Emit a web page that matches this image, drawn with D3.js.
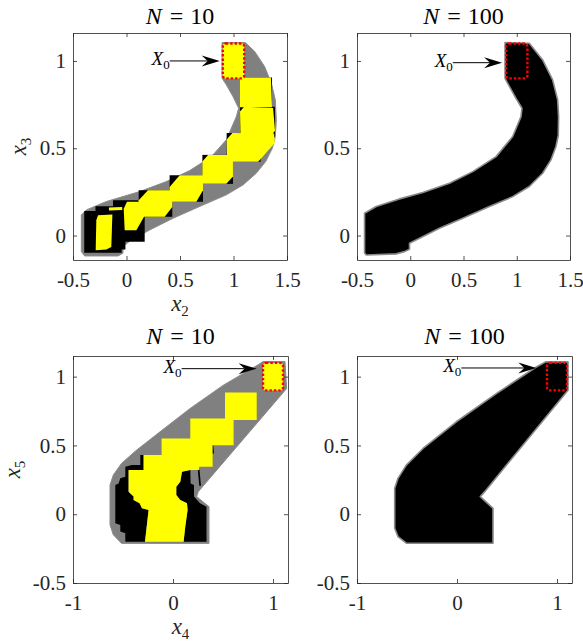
<!DOCTYPE html>
<html>
<head>
<meta charset="utf-8">
<script src="https://cdn.jsdelivr.net/npm/d3@7"></script>
<style>
  body { margin: 0; background: #fff; }
  svg text { font-family: "Liberation Serif", "Times New Roman", "DejaVu Serif", serif; }
</style>
</head>
<body>
<div id="chart"></div>
<script>
// ---------- data (data units) ----------
var titleN = [10, 100, 10, 100];
var xTicksTop = [-0.5, 0, 0.5, 1, 1.5], yTicksTop = [0, 0.5, 1];
var xTicksBot = [-1, 0, 1], yTicksBot = [-0.5, 0, 0.5, 1];

// initial set X0 : [xmin, xmax, ymin, ymax]
var initialSet = [0.9, 1.1, 0.9, 1.1];

// (x2, x3) plane
var hull23N10 = [[0.893,1.105],[1.111,1.105],[1.198,1.054],[1.291,0.968],[1.354,0.872],[1.391,0.777],
  [1.400,0.662],[1.391,0.567],[1.363,0.500],[1.301,0.424],[1.213,0.357],[1.089,0.290],[0.933,0.233],
  [0.715,0.175],[0.435,0.099],[0.217,0.032],[0.045,-0.025],[-0.033,-0.063],[-0.033,-0.101],
  [-0.079,-0.117],[-0.391,-0.117],[-0.422,-0.092],[-0.422,0.118],[-0.375,0.147],[-0.188,0.195],
  [0.123,0.252],[0.372,0.309],[0.590,0.372],[0.793,0.452],[0.933,0.548],[1.026,0.681],[1.048,0.729],
  [0.995,0.796],[0.933,0.863],[0.893,0.901]];
var hull23N100 = [[0.890,1.105],[1.118,1.101],[1.243,1.006],[1.337,0.891],[1.384,0.777],[1.393,0.681],
  [1.390,0.573],[1.368,0.510],[1.321,0.433],[1.243,0.357],[1.118,0.281],[0.962,0.223],[0.743,0.166],
  [0.493,0.099],[0.274,0.042],[0.087,-0.015],[-0.007,-0.044],[-0.007,-0.078],[-0.054,-0.092],
  [-0.132,-0.105],[-0.413,-0.111],[-0.429,-0.100],[-0.429,0.128],[-0.320,0.166],[-0.101,0.210],
  [0.118,0.246],[0.368,0.300],[0.587,0.366],[0.806,0.452],[0.962,0.567],[1.040,0.681],[1.049,0.729],
  [0.993,0.786],[0.915,0.872],[0.890,0.900]];
// outer boxes of the N = 10 steps : [xmin, xmax, ymin, ymax]
var boxes23 = [[1.058,1.360,0.735,0.905],[1.061,1.388,0.565,0.737],[0.936,1.254,0.422,0.588],
  [0.709,0.995,0.296,0.462],[0.403,0.715,0.193,0.345],[0.114,0.428,0.107,0.259],
  [-0.126,0.170,-0.036,0.202],[-0.290,-0.010,-0.080,0.168],[-0.395,-0.045,-0.098,0.140]];
// inner sets of the N = 10 steps
var inner23 = [
  [[1.058,0.905],[1.350,0.905],[1.360,0.735],[1.058,0.735]],
  [[1.100,0.737],[1.370,0.731],[1.388,0.600],[1.344,0.565],[1.065,0.578],[1.061,0.710]],
  [[0.990,0.588],[1.380,0.585],[1.385,0.530],[1.270,0.450],[1.230,0.422],[0.940,0.422],[0.936,0.550]],
  [[0.762,0.462],[0.995,0.462],[0.995,0.338],[0.933,0.296],[0.709,0.296],[0.709,0.424]],
  [[0.497,0.345],[0.715,0.345],[0.715,0.259],[0.653,0.193],[0.403,0.193],[0.403,0.278]],
  [[0.201,0.259],[0.428,0.259],[0.428,0.164],[0.357,0.107],[0.114,0.107],[0.114,0.202]],
  [[0.005,0.193],[0.154,0.193],[0.164,0.107],[0.092,0.030],[-0.017,0.030],[-0.026,0.154]],
  [[-0.164,0.160],[-0.040,0.163],[-0.040,0.146],[-0.164,0.143]],
  [[-0.266,0.116],[-0.132,0.120],[-0.142,-0.065],[-0.188,-0.080],[-0.288,-0.084],[-0.282,0.088]]];

// (x4, x5) plane
var hull45N10 = [[0.900,1.110],[1.120,1.110],[1.136,0.913],[0.253,0.164],[0.236,0.128],[0.360,0.055],
  [0.360,-0.212],[-0.514,-0.212],[-0.597,-0.150],[-0.630,-0.078],[-0.630,0.212],[-0.597,0.285],
  [-0.514,0.370],[-0.364,0.466],[-0.130,0.599],[0.170,0.768],[0.503,0.938],[0.853,1.087]];
var hull45N100 = [[0.886,1.107],[1.110,1.107],[1.110,0.901],[0.277,0.164],[0.233,0.128],[0.360,0.043],
  [0.360,-0.211],[-0.507,-0.211],[-0.590,-0.163],[-0.623,-0.102],[-0.623,0.188],[-0.590,0.261],
  [-0.507,0.357],[-0.340,0.478],[-0.007,0.672],[0.393,0.877],[0.793,1.070]];
var outer45 = [
  [[-0.327,0.430],[-0.294,0.430],[-0.294,0.321],[-0.444,0.321],[-0.444,0.164],[-0.394,0.128],
   [-0.394,0.104],[-0.334,0.079],[-0.310,0.043],[-0.244,0.031],[-0.280,-0.200],[-0.477,-0.200],
   [-0.477,-0.138],[-0.527,-0.126],[-0.527,-0.078],[-0.577,-0.066],[-0.577,0.212],[-0.544,0.224],
   [-0.527,0.261],[-0.477,0.273],[-0.477,0.345],[-0.410,0.357],[-0.327,0.357]],
  [[0.090,0.309],[0.173,0.321],[0.176,0.224],[0.210,0.212],[0.210,0.128],[0.270,0.079],
   [0.335,0.055],[0.335,-0.200],[0.106,-0.200],[0.123,-0.090],[0.146,0.031],[0.140,0.079],
   [0.073,0.104],[0.033,0.140],[0.033,0.200],[0.073,0.236]],
  [[0.246,0.338],[0.263,0.338],[0.280,0.207],[0.263,0.207]],
  [[0.376,0.551],[0.396,0.551],[0.410,0.442],[0.390,0.442]]];
var inner45 = [
  [[0.520,0.884],[0.837,0.884],[0.837,0.684],[0.606,0.684],[0.606,0.502],[0.396,0.502],[0.396,0.345],
   [0.263,0.345],[0.263,0.321],[0.173,0.321],[0.090,0.309],[0.073,0.236],[0.033,0.200],[0.033,0.140],
   [0.073,0.104],[0.140,0.079],[0.146,0.031],[0.123,-0.090],[0.106,-0.200],[-0.280,-0.200],
   [-0.244,0.031],[-0.310,0.043],[-0.334,0.079],[-0.394,0.104],[-0.394,0.128],[-0.444,0.164],
   [-0.444,0.321],[-0.294,0.321],[-0.294,0.430],[-0.114,0.430],[-0.114,0.551],[0.173,0.551],
   [0.173,0.696],[0.520,0.696]]];

// X0 annotation arrows : [tail x, tail y, head x, head y]
var arrowsX0 = [[0.404,1.0,0.871,1.0],[0.400,0.99,0.862,0.99],[0.086,1.058,0.836,1.058],[0.043,1.063,0.793,1.063]];

// ---------- layout ----------
var W = 583, H = 643;
var svg = d3.select("#chart").append("svg").attr("width", W).attr("height", H);

var panels = [
  { box: [73, 287, 33, 260], xd: [-0.5, 1.5], yd: [-0.14, 1.16], xt: xTicksTop, yt: yTicksTop,
    n: titleN[0], xl: "2", yl: "3", ylx: 26, xly: 311, titleY: 24,
    hull: hull23N10, mode: "n10", outer: boxes23.map(function (b) { return [[b[0],b[2]],[b[1],b[2]],[b[1],b[3]],[b[0],b[3]]]; }),
    inner: inner23, arrow: arrowsX0[0] },
  { box: [357, 570, 33, 260], xd: [-0.5, 1.5], yd: [-0.14, 1.16], xt: xTicksTop, yt: yTicksTop,
    n: titleN[1], titleY: 24, hull: hull23N100, mode: "n100", arrow: arrowsX0[1] },
  { box: [73, 288, 356, 583], xd: [-1, 1.15], yd: [-0.5, 1.15], xt: xTicksBot, yt: yTicksBot,
    n: titleN[2], xl: "4", yl: "5", ylx: 20, xly: 634, titleY: 344,
    hull: hull45N10, mode: "n10", outer: outer45, inner: inner45, arrow: arrowsX0[2] },
  { box: [357, 572, 356, 583], xd: [-1, 1.15], yd: [-0.5, 1.15], xt: xTicksBot, yt: yTicksBot,
    n: titleN[3], titleY: 344, hull: hull45N100, mode: "n100", arrow: arrowsX0[3] }
];

var axisColor = "#262626";

function styleAxis(g) {
  g.attr("font-size", 21).attr("font-family", null);
  g.select(".domain").attr("stroke", axisColor).attr("stroke-width", 0.8);
  g.selectAll(".tick line").attr("stroke", axisColor).attr("stroke-width", 0.8);
  g.selectAll(".tick text").attr("fill", axisColor);
}

panels.forEach(function (p, i) {
  var x = d3.scaleLinear().domain(p.xd).range([p.box[0], p.box[1]]);
  var y = d3.scaleLinear().domain(p.yd).range([p.box[3], p.box[2]]);
  var line = d3.line().x(function (d) { return x(d[0]); }).y(function (d) { return y(d[1]); });
  var poly = function (pts) { return line(pts) + "Z"; };

  svg.append("clipPath").attr("id", "clip" + i)
    .append("rect")
    .attr("x", p.box[0]).attr("y", p.box[2])
    .attr("width", p.box[1] - p.box[0]).attr("height", p.box[3] - p.box[2]);

  var plot = svg.append("g").attr("clip-path", "url(#clip" + i + ")");

  if (p.mode === "n10") {
    plot.append("path").attr("d", poly(p.hull))
      .attr("fill", "#808080").attr("stroke", "#8c8c8c").attr("stroke-width", 1);
    plot.selectAll("path.outer").data(p.outer).join("path").attr("class", "outer")
      .attr("d", poly).attr("fill", "#000");
    plot.selectAll("path.inner").data(p.inner).join("path").attr("class", "inner")
      .attr("d", poly).attr("fill", "#ffff00");
  } else {
    plot.append("path").attr("d", poly(p.hull))
      .attr("fill", "#000").attr("stroke", "#8a8a8a").attr("stroke-width", 1.6)
      .attr("stroke-linejoin", "round");
  }

  // initial set
  plot.append("rect")
    .attr("x", x(initialSet[0])).attr("y", y(initialSet[3]))
    .attr("width", x(initialSet[1]) - x(initialSet[0]))
    .attr("height", y(initialSet[2]) - y(initialSet[3]))
    .attr("rx", 3).attr("ry", 3)
    .attr("fill", p.mode === "n10" ? "#ffff00" : "#000")
    .attr("stroke", "#ff0000").attr("stroke-width", 2.4)
    .attr("stroke-dasharray", "2.4,2");

  // arrow + label
  var a = p.arrow;
  var tx = x(a[0]), ty = y(a[1]), hx = x(a[2]), hy = y(a[3]);
  svg.append("line").attr("x1", tx).attr("y1", ty).attr("x2", hx - 12).attr("y2", hy)
    .attr("stroke", "#000").attr("stroke-width", 1);
  svg.append("path")
    .attr("d", "M" + hx + "," + hy + "L" + (hx - 18) + "," + (hy - 5.5) + "L" + (hx - 12) + "," + hy +
      "L" + (hx - 18) + "," + (hy + 5.5) + "Z")
    .attr("fill", "#000");
  var lab = svg.append("text").attr("x", tx).attr("y", ty + 4).attr("text-anchor", "end")
    .attr("font-size", 19).attr("fill", "#000");
  lab.append("tspan").attr("font-style", "italic").text("X");
  lab.append("tspan").attr("font-size", 13).attr("dy", 4).text("0");

  // axes (box with inward ticks on all sides)
  var fmt = function (d) { return String(d); };
  svg.append("g").attr("transform", "translate(0," + p.box[3] + ")")
    .call(d3.axisBottom(x).tickValues(p.xt).tickSize(-4).tickSizeOuter(0).tickPadding(12).tickFormat(fmt))
    .call(styleAxis);
  svg.append("g").attr("transform", "translate(0," + p.box[2] + ")")
    .call(d3.axisTop(x).tickValues(p.xt).tickSize(-4).tickSizeOuter(0).tickFormat(""))
    .call(styleAxis);
  svg.append("g").attr("transform", "translate(" + p.box[0] + ",0)")
    .call(d3.axisLeft(y).tickValues(p.yt).tickSize(-4).tickSizeOuter(0).tickPadding(7).tickFormat(fmt))
    .call(styleAxis);
  svg.append("g").attr("transform", "translate(" + p.box[1] + ",0)")
    .call(d3.axisRight(y).tickValues(p.yt).tickSize(-4).tickSizeOuter(0).tickFormat(""))
    .call(styleAxis);

  // title
  var cx = (p.box[0] + p.box[1]) / 2;
  var t = svg.append("text").attr("x", cx).attr("y", p.titleY).attr("text-anchor", "middle")
    .attr("font-size", 24).attr("fill", "#000");
  t.append("tspan").attr("font-style", "italic").text("N");
  t.append("tspan").attr("dx", 8).text("=");
  t.append("tspan").attr("dx", 7).text(p.n);

  // axis labels
  if (p.xl) {
    var xl = svg.append("text").attr("x", cx).attr("y", p.xly).attr("text-anchor", "middle")
      .attr("font-size", 23).attr("fill", axisColor);
    xl.append("tspan").attr("font-style", "italic").text("x");
    xl.append("tspan").attr("font-size", 15).attr("dy", 5).text(p.xl);

    var cy = (p.box[2] + p.box[3]) / 2;
    var yl = svg.append("text").attr("transform", "translate(" + p.ylx + "," + cy + ") rotate(-90)")
      .attr("text-anchor", "middle").attr("font-size", 23).attr("fill", axisColor);
    yl.append("tspan").attr("font-style", "italic").text("x");
    yl.append("tspan").attr("font-size", 15).attr("dy", 5).text(p.yl);
  }
});
</script>
</body>
</html>
